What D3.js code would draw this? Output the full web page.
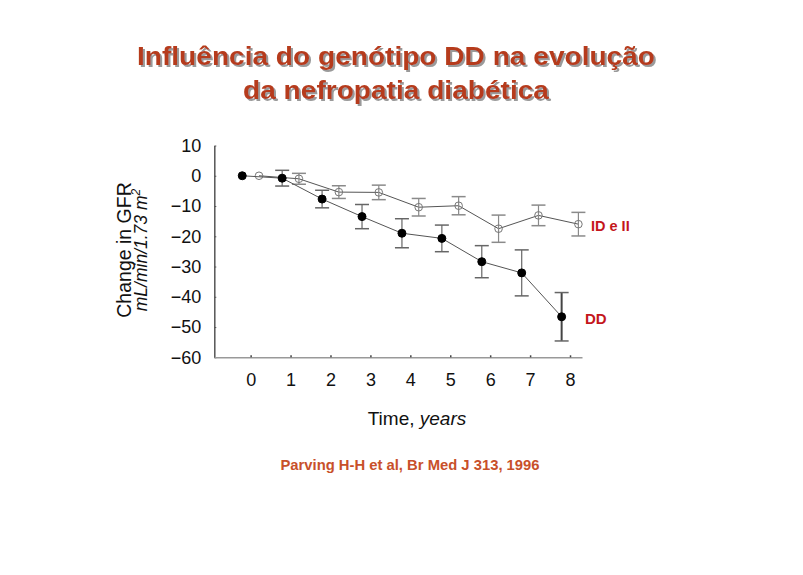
<!DOCTYPE html>
<html><head><meta charset="utf-8">
<script src="https://cdn.jsdelivr.net/npm/d3@7"></script>
<style>body{margin:0;background:#fff}svg{display:block}</style>
</head><body>
<svg id="c" width="803" height="575"></svg>
<script>
const years = [0,1,2,3,4,5,6,7,8];
const ddValues = [0,-0.8,-7.7,-13.5,-19,-20.7,-28.4,-32.1,-46.6];
const ddErrors = [0,2.6,2.9,4,4.8,4.4,5.3,7.6,8];
const idiiValues = [0,-1,-5.4,-5.5,-10.4,-9.9,-17.5,-13.1,-16.0];
const idiiErrors = [0,1.8,2.1,2.4,2.9,3,4.5,3.4,3.9];
const yTicks = [10,0,-10,-20,-30,-40,-50,-60];
const xTicks = [0,1,2,3,4,5,6,7,8];
const titleLines = ["Influência do genótipo DD na evolução","da nefropatia diabética"];
const seriesLabels = ["ID e II","DD"];
const citation = "Parving H-H et al, Br Med J 313, 1996";

const svg = d3.select("#c");
const font = "'Liberation Sans', Arial, sans-serif";
const x = d3.scaleLinear().domain([-0.91, 8.3]).range([214.3, 582]);
const y = d3.scaleLinear().domain([-60, 10]).range([357.3, 145.5]);

// shadow filter
const defs = svg.append("defs");
const f = defs.append("filter").attr("id","shadow").attr("x","-5%").attr("y","-20%").attr("width","110%").attr("height","150%");
f.append("feOffset").attr("in","SourceAlpha").attr("dx",2).attr("dy",2).attr("result","off");
f.append("feFlood").attr("flood-color","#9a9a9a").attr("result","col");
f.append("feComposite").attr("in","col").attr("in2","off").attr("operator","in").attr("result","sh");
const fm = f.append("feMerge");
fm.append("feMergeNode").attr("in","sh");
fm.append("feMergeNode").attr("in","SourceGraphic");

// Title
const titleColor = "#b63b1b";
const titleWidths = [518, 306];
titleLines.forEach((t,i)=>{
  svg.append("text").attr("x",396).attr("y",65 + i*34).attr("text-anchor","middle")
    .attr("font-family",font).attr("font-weight","bold").attr("font-size",26)
    .attr("textLength",titleWidths[i]).attr("lengthAdjust","spacingAndGlyphs")
    .attr("fill",titleColor).attr("filter","url(#shadow)").text(t);
});

// Axes
const gy = svg.append("g").attr("transform",`translate(${x.range()[0]},0)`)
  .call(d3.axisLeft(y).tickValues(yTicks).tickSizeInner(-2).tickSizeOuter(0).tickPadding(13));
gy.select(".domain").attr("stroke","#555").attr("stroke-width",1.5);
gy.selectAll(".tick line").attr("stroke","#555");
gy.selectAll("text").attr("font-family",font).attr("font-size",18).attr("fill","#111");

const gx = svg.append("g").attr("transform",`translate(0,${y.range()[0]})`)
  .call(d3.axisBottom(x).tickValues(xTicks).tickSizeInner(-2).tickSizeOuter(0).tickPadding(16).tickFormat(d3.format("d")));
gx.select(".domain").attr("stroke","#999").attr("stroke-width",1.5);
gx.selectAll(".tick line").attr("stroke","#444").attr("stroke-width",1.5);
gx.selectAll("text").attr("font-family",font).attr("font-size",18).attr("fill","#111");

// Axis titles
const yl = svg.append("g").attr("transform","translate(131,250) rotate(-90)");
yl.append("text").attr("text-anchor","middle").attr("font-family",font).attr("font-size",19.5)
  .attr("fill","#111").text("Change in GFR");
const yl2 = svg.append("g").attr("transform","translate(147,250) rotate(-90)");
const t2 = yl2.append("text").attr("text-anchor","middle").attr("font-family",font).attr("font-size",17.5)
  .attr("font-style","italic").attr("fill","#111");
t2.append("tspan").text("mL/min/1.73 m");
t2.append("tspan").attr("dy",-7).attr("font-size",12).text("2");

const xl = svg.append("text").attr("x",417).attr("y",425).attr("text-anchor","middle")
  .attr("font-family",font).attr("font-size",19).attr("fill","#111");
xl.append("tspan").text("Time, ");
xl.append("tspan").attr("font-style","italic").text("years");

// Series
function drawSeries(vals, errs, offset, filled, errColor){
  const pts = years.map((yr,i)=>({x:x(yr+offset), y:y(vals[i]), lo:y(vals[i]-errs[i]), hi:y(vals[i]+errs[i]), e:errs[i]}));
  svg.append("path").datum(pts)
    .attr("d", d3.line().x(d=>d.x).y(d=>d.y))
    .attr("fill","none").attr("stroke","#555").attr("stroke-width",1);
  const eg = svg.append("g");
  pts.forEach((p,i)=>{
    if(p.e<=0) return;
    const last = filled && i===pts.length-1;
    eg.append("line").attr("x1",p.x).attr("x2",p.x).attr("y1",p.hi).attr("y2",p.lo)
      .attr("stroke",last?"#444":errColor).attr("stroke-width",last?2:1.2);
    [p.hi,p.lo].forEach(yy=>eg.append("line").attr("x1",p.x-7).attr("x2",p.x+7).attr("y1",yy).attr("y2",yy)
      .attr("stroke",errColor).attr("stroke-width",1.5));
  });
  svg.append("g").selectAll("circle").data(pts).join("circle")
    .attr("cx",d=>d.x).attr("cy",d=>d.y).attr("r",filled?4:3.8)
    .attr("fill",filled?"#000":"none").attr("stroke",filled?"#000":"#777").attr("stroke-width",1);
}
drawSeries(idiiValues, idiiErrors, 0.21, false, "#8a8a8a");
drawSeries(ddValues, ddErrors, -0.21, true, "#666");

// Series labels
const labelColor = "#c4161c";
svg.append("text").attr("x",591).attr("y",231).attr("font-family",font).attr("font-weight","bold")
  .attr("font-size",14.5).attr("fill",labelColor).text(seriesLabels[0]);
svg.append("text").attr("x",585).attr("y",324).attr("font-family",font).attr("font-weight","bold")
  .attr("font-size",15).attr("fill",labelColor).text(seriesLabels[1]);

// Citation
svg.append("text").attr("x",410).attr("y",470).attr("text-anchor","middle").attr("font-family",font)
  .attr("font-weight","bold").attr("font-size",14.8).attr("fill","#c8502a").text(citation);
</script>
</body></html>
